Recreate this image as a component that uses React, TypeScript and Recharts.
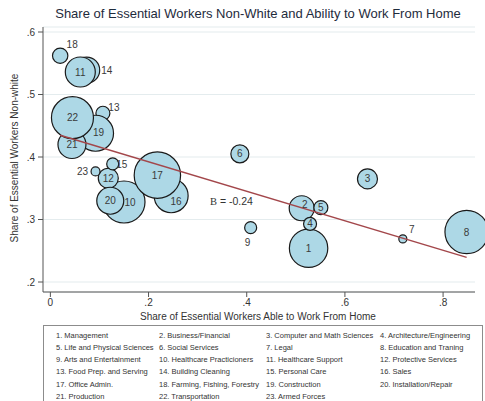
import { CartesianGrid, Scatter, ScatterChart, XAxis, YAxis, ZAxis } from "recharts";

const occupations = [
  "Management",
  "Business/Financial",
  "Computer and Math Sciences",
  "Architecture/Engineering",
  "Life and Physical Sciences",
  "Social Services",
  "Legal",
  "Education and Traning",
  "Arts and Entertainment",
  "Healthcare Practicioners",
  "Healthcare Support",
  "Protective Services",
  "Food Prep. and Serving",
  "Building Cleaning",
  "Personal Care",
  "Sales",
  "Office Admin.",
  "Farming, Fishing, Forestry",
  "Construction",
  "Installation/Repair",
  "Production",
  "Transportation",
  "Armed Forces"
];

// share able to work from home (x)
const shareWfh = [
  0.526, 0.512, 0.646, 0.529, 0.551, 0.386, 0.718, 0.848, 0.408, 0.15, 0.061, 0.118,
  0.107, 0.074, 0.127, 0.246, 0.218, 0.02, 0.092, 0.122, 0.044, 0.045, 0.092
];

// share non-white (y)
const shareNonWhite = [
  0.254, 0.318, 0.365, 0.293, 0.319, 0.405, 0.269, 0.28, 0.287, 0.328, 0.536, 0.366,
  0.47, 0.539, 0.389, 0.338, 0.371, 0.562, 0.438, 0.33, 0.42, 0.463, 0.377
];

// bubble weight (relative number of essential workers)
const workers = [
  369, 156, 100, 42, 49, 81, 16, 471, 36, 441, 225, 100, 49, 169, 36, 289, 538, 59, 324,
  182, 196, 441, 20
];

const xTicks = [0, 0.2, 0.4, 0.6, 0.8];
const yTicks = [0.2, 0.3, 0.4, 0.5, 0.6];

const fitIntercept = 0.4395;
const fitSlope = -0.236;

// drawing order so overlaps look like the original
const drawOrder = [1, 2, 3, 4, 5, 6, 7, 8, 9, 10, 14, 11, 12, 13, 15, 16, 17, 18, 19, 20, 21, 22, 23];

// label offsets in px from the bubble centre (0,0 = centred)
const labelOffset: Record<number, [number, number]> = {
  2: [3, -4],
  7: [9, -9],
  9: [-3, 15],
  10: [6, 0],
  13: [11, -6],
  14: [20, 0],
  15: [9, 1],
  16: [5, 6],
  18: [12, -11],
  19: [3, -1],
  23: [-13, 0]
};

const points = occupations.map((name, i) => ({
  id: i + 1,
  name,
  x: shareWfh[i],
  y: shareNonWhite[i],
  z: workers[i]
}));
const bubbles = drawOrder.map(id => points[id - 1]);

const xMin = Math.min(...shareWfh);
const xMax = Math.max(...shareWfh);
const fitLine = [
  { x: xMin, y: fitIntercept + fitSlope * xMin },
  { x: xMax, y: fitIntercept + fitSlope * xMax }
];

const font = '"Liberation Sans", Arial, sans-serif';
const fmt = (v: number) => (v === 0 ? "0" : v.toFixed(1).replace(/^0/, ""));
const maxZ = Math.max(...workers);

const legendCols = [56, 159, 266, 380];

export default function App() {
  return (
    <div style={{ position: "absolute", left: 0, top: 0, background: "#fff" }}>
      <ScatterChart width={485} height={401} margin={{ top: 27, right: 10, bottom: 79, left: 0 }}>
        <CartesianGrid vertical={false} stroke="#e4ecee" strokeWidth={1.2} />
        <XAxis
          type="number"
          dataKey="x"
          domain={[-0.015, 0.865]}
          ticks={xTicks}
          tickFormatter={fmt}
          height={30}
          tickSize={5}
          tickMargin={2}
          stroke="#555"
          tick={{ fontSize: 10, fill: "#333", fontFamily: font }}
        />
        <YAxis
          type="number"
          dataKey="y"
          domain={[0.184, 0.608]}
          ticks={yTicks}
          tickFormatter={fmt}
          width={43}
          tickSize={5}
          tickMargin={3}
          stroke="#555"
          tick={{ fontSize: 10, fill: "#333", fontFamily: font }}
        />
        <ZAxis type="number" dataKey="z" domain={[0, maxZ]} range={[0, maxZ * Math.PI]} />
        <Scatter
          data={bubbles}
          isAnimationActive={false}
          shape={(p: any) => (
            <circle
              cx={p.cx}
              cy={p.cy}
              r={Math.sqrt(Math.max(p.size || 0, 0) / Math.PI)}
              fill="#add8e6"
              stroke="#1a1a1a"
              strokeWidth={1.2}
            />
          )}
        />
        <Scatter
          data={fitLine}
          isAnimationActive={false}
          line={{ stroke: "#a3474b", strokeWidth: 1.4 }}
          shape={() => <g />}
        />
        <Scatter
          data={bubbles}
          isAnimationActive={false}
          shape={(p: any) => {
            const [dx, dy] = labelOffset[p.payload?.id ?? p.id] || [0, 0];
            return (
              <text
                x={p.cx + dx}
                y={p.cy + dy}
                textAnchor="middle"
                dominantBaseline="central"
                fontSize={10}
                fontFamily={font}
                fill="#3a3a3a"
              >
                {p.payload?.id ?? p.id}
              </text>
            );
          }}
        />
        <text x={258} y={18} textAnchor="middle" fontSize={13} fontFamily={font} fill="#1e2b3c">
          Share of Essential Workers Non-White and Ability to Work From Home
        </text>
        <text x={210} y={205} fontSize={10.5} fontFamily={font} fill="#333">
          <tspan fontFamily='"Liberation Serif", serif'>B</tspan> = -0.24
        </text>
        <text x={258} y={320} textAnchor="middle" fontSize={10} fontFamily={font} fill="#333">
          Share of Essential Workers Able to Work From Home
        </text>
        <text
          x={14}
          y={158}
          transform="rotate(-90, 14, 158)"
          textAnchor="middle"
          dominantBaseline="central"
          fontSize={10}
          fontFamily={font}
          fill="#333"
        >
          Share of Essential Workers Non-white
        </text>
        <rect x={43.5} y={325.5} width={439} height={80} fill="none" stroke="#8c8c8c" />
        {occupations.map((name, i) => (
          <text
            key={name}
            x={legendCols[i % 4]}
            y={335 + Math.floor(i / 4) * 12.25}
            dominantBaseline="central"
            fontSize={7.5}
            fontFamily={font}
            fill="#333"
          >
            {`${i + 1}. ${name}`}
          </text>
        ))}
      </ScatterChart>
    </div>
  );
}
